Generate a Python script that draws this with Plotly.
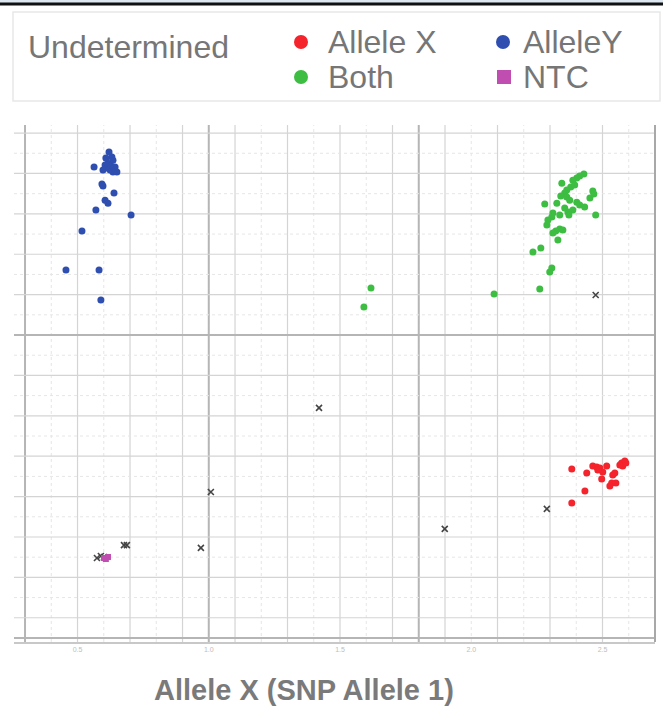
import plotly.graph_objects as go

# ---- data: normalized reporter signal per well ----
allele_y_x = [0.620, 0.631, 0.635, 0.563, 0.605, 0.612, 0.624, 0.643, 0.597, 0.616,
              0.650, 0.635, 0.628, 0.608, 0.593, 0.597, 0.639, 0.605, 0.616, 0.570,
              0.704, 0.517, 0.456, 0.582, 0.589]
allele_y_y = [2.406, 2.381, 2.366, 2.332, 2.342, 2.327, 2.317, 2.332, 2.317, 2.351,
              2.307, 2.307, 2.337, 2.376, 2.248, 2.238, 2.203, 2.168, 2.153, 2.119,
              2.094, 2.015, 1.822, 1.822, 1.673]

both_x = [2.429, 2.413, 2.402, 2.387, 2.345, 2.379, 2.364, 2.356, 2.463, 2.467,
          2.452, 2.280, 2.326, 2.364, 2.375, 2.402, 2.413, 2.432, 2.387, 2.368,
          2.356, 2.337, 2.311, 2.307, 2.292, 2.288, 2.474, 2.372, 2.337, 2.322,
          2.349, 2.311, 2.330, 2.265, 2.235, 2.307, 2.299, 2.261, 2.087, 1.618,
          1.591, 2.394, 2.341]
both_y = [2.297, 2.287, 2.277, 2.267, 2.252, 2.233, 2.218, 2.203, 2.213, 2.198,
          2.178, 2.149, 2.153, 2.183, 2.168, 2.158, 2.144, 2.134, 2.119, 2.109,
          2.129, 2.094, 2.104, 2.084, 2.069, 2.045, 2.094, 2.094, 2.025, 2.015,
          2.020, 2.005, 1.970, 1.931, 1.911, 1.832, 1.812, 1.728, 1.703, 1.733,
          1.639, 2.243, 2.188]

allele_x_x = [2.383, 2.463, 2.478, 2.490, 2.516, 2.501, 2.440, 2.497, 2.539, 2.547,
              2.573, 2.585, 2.577, 2.566, 2.589, 2.535, 2.551, 2.528, 2.433, 2.383,
              2.482]
allele_x_y = [0.837, 0.851, 0.847, 0.842, 0.851, 0.822, 0.817, 0.787, 0.807, 0.817,
              0.866, 0.876, 0.851, 0.856, 0.866, 0.767, 0.767, 0.752, 0.728, 0.668,
              0.832]

undet_x = [2.474, 2.288, 1.420, 1.008, 0.970, 0.688, 0.677, 1.899, 0.574, 0.589, 0.601]
undet_y = [1.698, 0.639, 1.139, 0.723, 0.446, 0.460, 0.460, 0.540, 0.396, 0.406, 0.401]

ntc_x = [0.601, 0.608, 0.616]
ntc_y = [0.396, 0.391, 0.401]

x_tick_vals = [0.5, 1.0, 1.5, 2.0, 2.5]
x_tick_text = ["0.5", "1.0", "1.5", "2.0", "2.5"]

legend_labels = ["Allele X", "AlleleY", "Both", "NTC"]

# ---- styling ----
RED = "#f5232b"
BLUE = "#2f4fb0"
GREEN = "#3dbd42"
MAGENTA = "#c04db0"
TEXT = "#767676"
FONT = "Liberation Sans"

W, H = 663, 724
ML, MR, MT, MB = 14, 8, 125, 82
PW, PH = W - ML - MR, H - MT - MB


def pxx(p):
    return (p - ML) / PW


def pxy(p):
    return (H - MB - p) / PH


fig = go.Figure()

dot = dict(size=7, line=dict(width=0))
fig.add_trace(go.Scatter(x=undet_x, y=undet_y, mode="markers", name="Undetermined",
                         marker=dict(symbol="x-thin", size=6, color="#444",
                                     line=dict(width=1.6, color="#444"))))
fig.add_trace(go.Scatter(x=allele_y_x, y=allele_y_y, mode="markers", name=legend_labels[1],
                         marker=dict(color=BLUE, **dot)))
fig.add_trace(go.Scatter(x=both_x, y=both_y, mode="markers", name=legend_labels[2],
                         marker=dict(color=GREEN, **dot)))
fig.add_trace(go.Scatter(x=allele_x_x, y=allele_x_y, mode="markers", name=legend_labels[0],
                         marker=dict(color=RED, **dot)))
fig.add_trace(go.Scatter(x=ntc_x, y=ntc_y, mode="markers", name=legend_labels[3],
                         marker=dict(symbol="square", color=MAGENTA, size=6, line=dict(width=0))))

shapes = []
# vertical grid lines every 0.1
for i in range(3, 27):
    v = i / 10
    shapes.append(dict(type="line", xref="x", yref="paper", x0=v, x1=v, y0=0, y1=1,
                       layer="below",
                       line=dict(color="#d4d4d4" if i % 2 == 1 else "#e6e6e6",
                                 width=1.2 if i % 2 == 1 else 1,
                                 dash="solid" if i % 2 == 1 else "dot")))
for v in (0.3, 1.0, 1.8):
    shapes.append(dict(type="line", xref="x", yref="paper", x0=v, x1=v, y0=0, y1=1,
                       layer="below", line=dict(color="#b5b5b5", width=2)))
# horizontal grid lines every 0.1
for i in range(0, 26):
    v = i / 10
    shapes.append(dict(type="line", xref="paper", yref="y", x0=0, x1=1, y0=v, y1=v,
                       layer="below",
                       line=dict(color="#d4d4d4" if i % 2 == 1 else "#e6e6e6",
                                 width=1.2 if i % 2 == 1 else 1,
                                 dash="solid" if i % 2 == 1 else "dot")))
for v in (0.0, 1.5):
    shapes.append(dict(type="line", xref="paper", yref="y", x0=0, x1=1, y0=v, y1=v,
                       layer="below", line=dict(color="#b5b5b5", width=2)))
# right frame edge
shapes.append(dict(type="line", xref="paper", yref="paper", x0=1, x1=1, y0=0, y1=1,
                   line=dict(color="#a8a8a8", width=2)))

# top banner strip
shapes.append(dict(type="rect", xref="paper", yref="paper", x0=pxx(0), x1=pxx(W),
                   y0=pxy(3), y1=pxy(0), fillcolor="#dce7f2", line=dict(width=0)))
shapes.append(dict(type="line", xref="paper", yref="paper", x0=pxx(0), x1=pxx(W),
                   y0=pxy(4), y1=pxy(4), line=dict(color="#111", width=3)))
# legend box
shapes.append(dict(type="rect", xref="paper", yref="paper", x0=pxx(13), x1=pxx(660),
                   y0=pxy(101), y1=pxy(12), fillcolor="white",
                   line=dict(color="#e8e8e8", width=1.5)))

# legend symbols
def circle(cx, cy, r, color):
    return dict(type="circle", xref="paper", yref="paper",
                x0=pxx(cx - r), x1=pxx(cx + r), y0=pxy(cy + r), y1=pxy(cy - r),
                fillcolor=color, line=dict(width=0))

shapes.append(circle(301, 42, 7, RED))
shapes.append(circle(503, 42, 7, BLUE))
shapes.append(circle(301, 77, 7, GREEN))
shapes.append(dict(type="rect", xref="paper", yref="paper",
                   x0=pxx(497), x1=pxx(511), y0=pxy(84), y1=pxy(70),
                   fillcolor=MAGENTA, line=dict(width=0)))

annotations = [
    dict(text="Undetermined", x=pxx(26), y=pxy(47), xanchor="left", yanchor="middle"),
    dict(text=legend_labels[0], x=pxx(326), y=pxy(42), xanchor="left", yanchor="middle"),
    dict(text=legend_labels[1], x=pxx(521), y=pxy(42), xanchor="left", yanchor="middle"),
    dict(text=legend_labels[2], x=pxx(326), y=pxy(77), xanchor="left", yanchor="middle"),
    dict(text=legend_labels[3], x=pxx(521), y=pxy(77), xanchor="left", yanchor="middle"),
]
for a in annotations:
    a.update(xref="paper", yref="paper", showarrow=False,
             font=dict(family=FONT, size=32, color=TEXT))

annotations.append(dict(text="Allele X (SNP Allele 1)", xref="paper", yref="paper",
                        x=pxx(304), y=pxy(690), xanchor="center", yanchor="middle",
                        showarrow=False,
                        font=dict(family=FONT, size=29, color="#7a7a7a", weight="bold")))

fig.update_layout(
    width=W, height=H,
    margin=dict(l=ML, r=MR, t=MT, b=MB),
    paper_bgcolor="white", plot_bgcolor="white",
    showlegend=False,
    shapes=shapes,
    annotations=annotations,
    xaxis=dict(range=[0.258, 2.70], showgrid=False, zeroline=False,
               tickvals=x_tick_vals, ticktext=x_tick_text, ticks="",
               tickfont=dict(family=FONT, size=7, color="#bdbdbd"),
               showline=True, linecolor="#c8c8c8", linewidth=1.5),
    yaxis=dict(range=[-0.02, 2.54], showgrid=False, zeroline=False,
               showticklabels=False, ticks=""),
)

fig.write_html("out.html")
